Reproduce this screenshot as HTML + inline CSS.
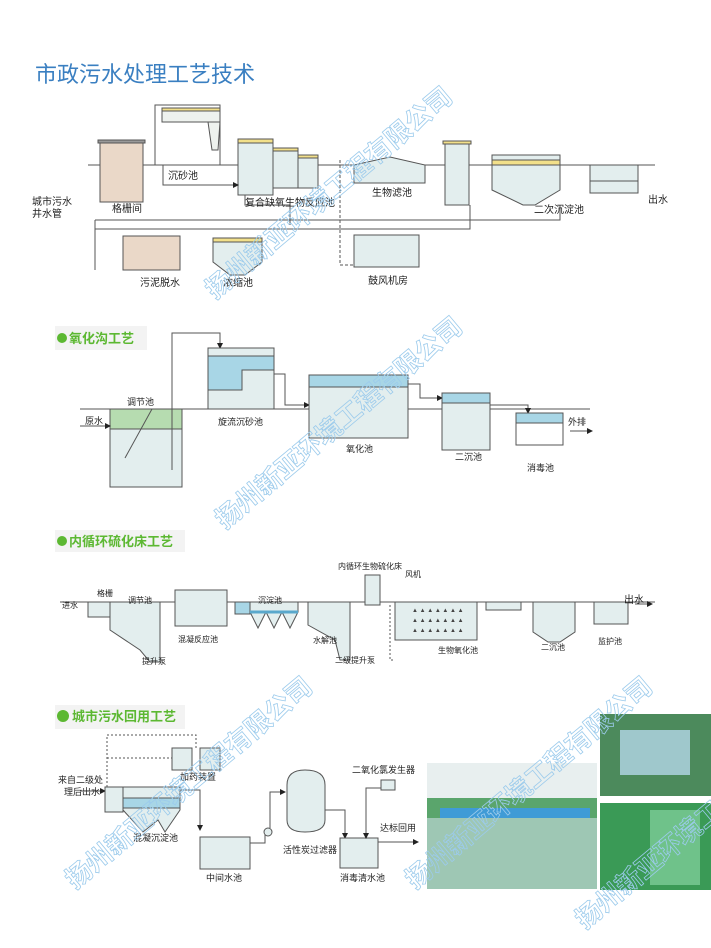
<!DOCTYPE html>
<html><head><meta charset="utf-8"><style>
html,body{margin:0;padding:0;background:#fff}
svg{display:block}
text{font-family:"Liberation Sans","Noto Sans CJK SC",sans-serif}
</style></head><body>
<svg width="711" height="948" viewBox="0 0 711 948" xmlns="http://www.w3.org/2000/svg">
<defs>
<marker id="a" markerWidth="6" markerHeight="6" refX="5" refY="3" orient="auto"><path d="M0,0L6,3L0,6z" fill="#222"/></marker>
</defs>
<text x="35" y="82" font-size="22" fill="#3a7fc1">市政污水处理工艺技术</text>

<!-- Section 1 -->
<g stroke="#555" stroke-width="1" fill="#e3eeee">
<line x1="88" y1="165" x2="655" y2="165"/>
<rect x="100" y="142" width="43" height="60" fill="#ead8c8"/>
<rect x="98" y="140" width="47" height="3" fill="#999"/>
<polyline points="155,165 155,105 220,105 220,165" fill="none"/>
<rect x="162" y="108" width="58" height="14" fill="#eef2ee"/>
<rect x="162" y="108" width="58" height="3" fill="#f2e08a"/>
<path d="M208,122 L220,122 L218,150 L212,150 Z" fill="#eef2ee"/>
<rect x="238" y="139" width="35" height="56"/>
<rect x="238" y="139" width="35" height="4" fill="#f2e08a"/>
<rect x="273" y="148" width="25" height="40"/>
<rect x="273" y="148" width="25" height="3" fill="#f2e08a"/>
<rect x="298" y="155" width="20" height="33"/>
<rect x="298" y="155" width="20" height="3" fill="#f2e08a"/>
<path d="M354,165 L390,157 L425,165 L425,183 L354,183 Z"/>
<rect x="445" y="143" width="24" height="62"/>
<rect x="443" y="141" width="28" height="3" fill="#f2e08a"/>
<path d="M492,155 L560,155 L560,190 L535,205 L523,205 L492,190 Z"/>
<rect x="492" y="160" width="68" height="5" fill="#f2e08a"/>
<rect x="590" y="165" width="48" height="28"/>
<line x1="590" y1="181" x2="638" y2="181"/>
<polyline points="95,220 560,220 560,205" fill="none"/>
<polyline points="95,229 470,229 470,205" fill="none"/>
<line x1="95" y1="220" x2="95" y2="270"/>
<rect x="123" y="236" width="57" height="34" fill="#ead8c8"/>
<path d="M213,238 L262,238 L262,262 L245,275 L230,275 L213,262 Z"/>
<rect x="213" y="238" width="49" height="4" fill="#f2e08a"/>
<rect x="354" y="235" width="65" height="32"/>
<polyline points="340,160 340,265 354,265" fill="none" stroke-dasharray="3,2"/>
<polyline points="245,195 245,205 290,205 290,225" fill="none"/>
<polyline points="163,165 163,185 238,185" fill="none" marker-end="url(#a)"/>
</g>
<g font-size="10" fill="#222">
<text x="32" y="205">城市污水</text><text x="32" y="217">井水管</text>
<text x="112" y="212">格栅间</text><text x="168" y="179">沉砂池</text>
<text x="245" y="206">复合缺氧生物反应池</text><text x="372" y="196">生物滤池</text>
<text x="534" y="213">二次沉淀池</text><text x="648" y="203">出水</text>
<text x="140" y="286">污泥脱水</text><text x="223" y="286">浓缩池</text><text x="368" y="284">鼓风机房</text>
</g>

<!-- Section 2 -->
<rect x="55" y="326" width="92" height="24" fill="#f3f3f3"/>
<circle cx="62" cy="338" r="5" fill="#5cb832"/>
<text x="69" y="343" font-size="13" font-weight="bold" fill="#5cb832">氧化沟工艺</text>
<g stroke="#555" stroke-width="1" fill="#e3eeee">
<line x1="80" y1="409" x2="590" y2="409"/>
<rect x="110" y="409" width="72" height="78"/>
<rect x="110" y="409" width="72" height="20" fill="#b6dcb0"/>
<line x1="125" y1="458" x2="152" y2="409"/>
<polyline points="172,470 172,333 220,333 220,348" fill="none" marker-end="url(#a)"/>
<rect x="208" y="348" width="66" height="61"/>
<path d="M208,356 L274,356 L274,370 L242,370 L242,390 L208,390 Z" fill="#a8d6e6"/>
<polyline points="274,374 285,374 285,405 309,405" fill="none" marker-end="url(#a)"/>
<rect x="309" y="375" width="99" height="63"/>
<rect x="309" y="375" width="99" height="12" fill="#a8d6e6"/>
<polyline points="408,384 420,384 420,398 442,398" fill="none" marker-end="url(#a)"/>
<rect x="442" y="393" width="48" height="57"/>
<rect x="442" y="393" width="48" height="10" fill="#a8d6e6"/>
<polyline points="490,405 528,405 528,413" fill="none" marker-end="url(#a)"/>
<rect x="516" y="413" width="47" height="32" fill="#fff"/>
<rect x="516" y="413" width="47" height="10" fill="#a8d6e6"/>
<line x1="570" y1="431" x2="592" y2="431" marker-end="url(#a)"/>
<line x1="80" y1="426" x2="110" y2="426" marker-end="url(#a)"/>
</g>
<g font-size="9" fill="#222">
<text x="85" y="424">原水</text><text x="127" y="405">调节池</text><text x="218" y="425">旋流沉砂池</text>
<text x="346" y="452">氧化池</text><text x="455" y="460">二沉池</text><text x="527" y="471">消毒池</text><text x="568" y="425">外排</text>
</g>

<!-- Section 3 -->
<rect x="55" y="530" width="130" height="22" fill="#f3f3f3"/>
<circle cx="62" cy="541" r="5" fill="#5cb832"/>
<text x="69" y="546" font-size="13" font-weight="bold" fill="#5cb832">内循环硫化床工艺</text>
<g stroke="#555" stroke-width="1" fill="#e3eeee">
<line x1="60" y1="602" x2="655" y2="602"/>
<rect x="88" y="602" width="22" height="15"/>
<path d="M110,602 L160,602 L160,662 L150,662 L140,650 L110,630 Z"/>
<rect x="175" y="590" width="52" height="36"/>
<rect x="235" y="602" width="15" height="12" fill="#a8d6e6"/>
<path d="M250,602 L298,602 L298,612 L290,628 L282,612 L274,628 L266,612 L258,628 L250,612 Z"/>
<line x1="250" y1="612" x2="298" y2="612" stroke="#5aa8cc" stroke-width="3"/>
<path d="M308,602 L350,602 L350,660 L340,660 L335,640 L308,625 Z"/>
<rect x="365" y="575" width="15" height="30"/>
<rect x="395" y="602" width="82" height="38"/>
<rect x="486" y="602" width="35" height="8"/>
<path d="M533,602 L575,602 L575,632 L560,642 L548,642 L533,632 Z"/>
<rect x="594" y="602" width="34" height="22"/>
<polyline points="390,605 390,660 395,660" fill="none" stroke-dasharray="2,2"/>
<line x1="635" y1="604" x2="652" y2="604" marker-end="url(#a)"/>
</g>
<g fill="#444" font-size="6">
<text x="412" y="612">▲ ▲ ▲ ▲ ▲ ▲ ▲</text><text x="412" y="622">▲ ▲ ▲ ▲ ▲ ▲ ▲</text><text x="412" y="632">▲ ▲ ▲ ▲ ▲ ▲ ▲</text>
</g>
<g font-size="8" fill="#222">
<text x="62" y="608">进水</text><text x="97" y="596">格栅</text><text x="128" y="603">调节池</text>
<text x="142" y="664">提升泵</text><text x="178" y="642">混凝反应池</text><text x="258" y="603">沉淀池</text>
<text x="313" y="643">水解池</text><text x="335" y="663">二级提升泵</text><text x="338" y="569">内循环生物硫化床</text>
<text x="405" y="577">风机</text><text x="438" y="653">生物氧化池</text><text x="541" y="650">二沉池</text>
<text x="598" y="644">监护池</text><text x="624" y="603" font-size="10">出水</text>
</g>

<!-- Section 4 -->
<rect x="55" y="705" width="130" height="24" fill="#f3f3f3"/>
<circle cx="63" cy="716" r="6" fill="#5cb832"/>
<text x="72" y="721" font-size="13" font-weight="bold" fill="#5cb832">城市污水回用工艺</text>
<g stroke="#555" stroke-width="1" fill="#e3eeee">
<polyline points="107,787 107,735 196,735 196,748" fill="none" stroke-dasharray="2,2"/>
<line x1="107" y1="758" x2="175" y2="758" stroke-dasharray="2,2"/>
<rect x="172" y="748" width="20" height="22"/><rect x="200" y="748" width="20" height="22"/>
<line x1="80" y1="791" x2="105" y2="791" marker-end="url(#a)"/>
<rect x="105" y="787" width="18" height="25"/>
<path d="M123,787 L180,787 L180,810 L165,832 L158,820 L143,832 L123,810 Z"/>
<rect x="123" y="798" width="57" height="10" fill="#a8d6e6"/>
<polyline points="180,790 200,790 200,830" fill="none" marker-end="url(#a)"/>
<rect x="200" y="837" width="50" height="32"/>
<polyline points="250,843 265,843 265,830" fill="none"/>
<circle cx="268" cy="832" r="4"/>
<polyline points="270,828 270,792 285,792" fill="none" marker-end="url(#a)"/>
<path d="M287,785 Q287,770 305,770 Q325,770 325,785 L325,820 Q325,832 305,832 Q287,832 287,820 Z"/>
<polyline points="325,810 345,810 345,838" fill="none" marker-end="url(#a)"/>
<rect x="340" y="838" width="38" height="30"/>
<rect x="381" y="780" width="14" height="10"/>
<polyline points="381,788 366,788 366,838" fill="none" marker-end="url(#a)"/>
<line x1="378" y1="842" x2="418" y2="842" marker-end="url(#a)"/>
</g>
<g font-size="9" fill="#222">
<text x="58" y="783">来自二级处</text><text x="64" y="795">理后出水</text><text x="180" y="780">加药装置</text>
<text x="133" y="841">混凝沉淀池</text><text x="206" y="881">中间水池</text><text x="283" y="853">活性炭过滤器</text>
<text x="352" y="773">二氧化氯发生器</text><text x="380" y="831">达标回用</text><text x="340" y="881">消毒清水池</text>
</g>
<!-- photos -->
<rect x="427" y="763" width="170" height="126" fill="#9ec7b4"/>
<rect x="427" y="763" width="170" height="35" fill="#e8efef"/>
<rect x="427" y="798" width="170" height="20" fill="#5aa56c"/>
<rect x="440" y="808" width="150" height="10" fill="#3f9bd6"/>
<rect x="600" y="714" width="111" height="82" fill="#4c8a5c"/>
<rect x="620" y="730" width="70" height="45" fill="#9fc8cc"/>
<rect x="600" y="803" width="111" height="87" fill="#3a9a56"/>
<rect x="650" y="810" width="50" height="75" fill="#6fc28a"/>

<!-- watermarks -->
<g font-size="26" font-weight="bold" fill="none" stroke="#9ccbec" stroke-width="0.8">
<text transform="translate(215,300) rotate(-40)">扬州新亚环境工程有限公司</text>
<text transform="translate(225,530) rotate(-40)">扬州新亚环境工程有限公司</text>
<text transform="translate(75,890) rotate(-40)">扬州新亚环境工程有限公司</text>
<text transform="translate(415,890) rotate(-40)">扬州新亚环境工程有限公司</text>
<text transform="translate(585,930) rotate(-40)">扬州新亚环境工程有限公司</text>
</g>
</svg>
</body></html>
